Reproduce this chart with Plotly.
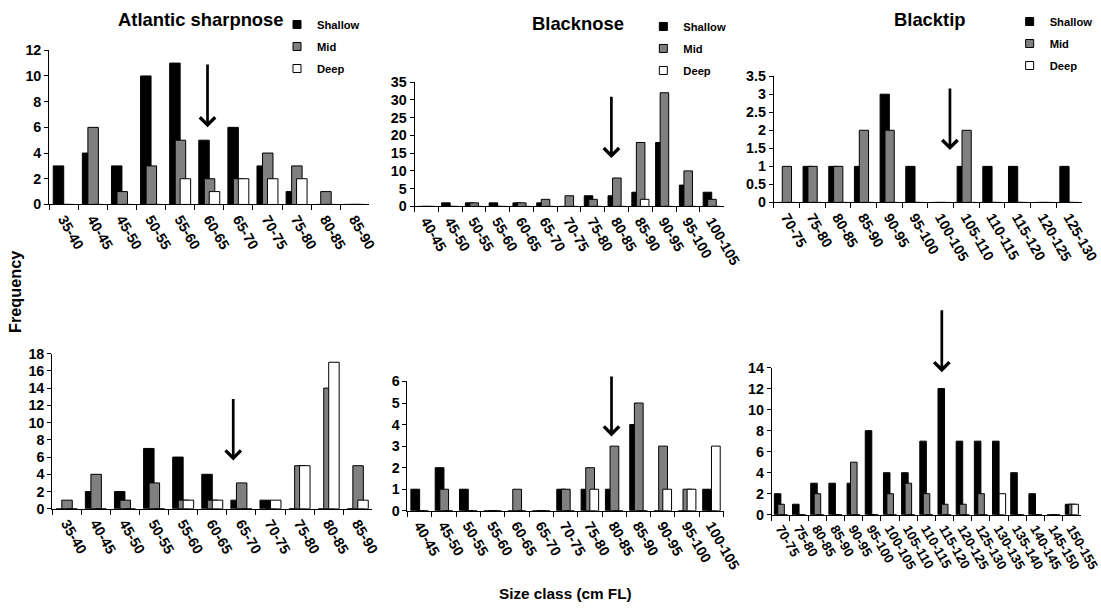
import plotly.graph_objects as go

# ---------------- data ----------------
sharp_cats = ["35-40", "40-45", "45-50", "50-55", "55-60", "60-65", "65-70",
              "70-75", "75-80", "80-85", "85-90"]
sharp_top_shallow = [3, 4, 3, 10, 11, 5, 6, 3, 1, 0, 0]
sharp_top_mid = [0, 6, 1, 3, 5, 2, 2, 4, 3, 1, 0]
sharp_top_deep = [0, 0, 0, 0, 2, 1, 2, 2, 2, 0, 0]
sharp_bot_shallow = [0, 2, 2, 7, 6, 4, 1, 1, 0, 0, 0]
sharp_bot_mid = [1, 4, 1, 3, 1, 1, 3, 0, 5, 14, 5]
sharp_bot_deep = [0, 0, 0, 0, 1, 1, 0, 1, 5, 17, 1]

nose_cats = ["40-45", "45-50", "50-55", "55-60", "60-65", "65-70", "70-75",
             "75-80", "80-85", "85-90", "90-95", "95-100", "100-105"]
nose_top_shallow = [0, 1, 1, 1, 1, 1, 0, 3, 3, 4, 18, 6, 4]
nose_top_mid = [0, 0, 1, 0, 1, 2, 3, 2, 8, 18, 32, 10, 2]
nose_top_deep = [0, 0, 0, 0, 0, 0, 0, 0, 0, 2, 0, 0, 0]
nose_bot_shallow = [1, 2, 1, 0, 0, 0, 1, 1, 1, 4, 0, 0, 1]
nose_bot_mid = [0, 1, 0, 0, 1, 0, 1, 2, 3, 5, 3, 1, 0]
nose_bot_deep = [0, 0, 0, 0, 0, 0, 0, 1, 0, 0, 1, 1, 3]

tip_top_cats = ["70-75", "75-80", "80-85", "85-90", "90-95", "95-100", "100-105",
                "105-110", "110-115", "115-120", "120-125", "125-130"]
tip_top_shallow = [0, 1, 1, 1, 3, 1, 0, 1, 1, 1, 0, 1]
tip_top_mid = [1, 1, 1, 2, 2, 0, 0, 2, 0, 0, 0, 0]
tip_top_deep = [0, 0, 0, 0, 0, 0, 0, 0, 0, 0, 0, 0]

tip_bot_cats = ["70-75", "75-80", "80-85", "85-90", "90-95", "95-100", "100-105",
                "105-110", "110-115", "115-120", "120-125", "125-130", "130-135",
                "135-140", "140-145", "145-150", "150-155"]
tip_bot_shallow = [2, 1, 3, 3, 3, 8, 4, 4, 7, 12, 7, 7, 7, 4, 2, 0, 1]
tip_bot_mid = [1, 0, 2, 0, 5, 0, 2, 3, 2, 1, 1, 2, 0, 0, 0, 0, 1]
tip_bot_deep = [0, 0, 0, 0, 0, 0, 0, 0, 0, 0, 0, 0, 2, 0, 0, 0, 1]

series_names = ["Shallow", "Mid", "Deep"]
panel_titles = ["Atlantic sharpnose", "Blacknose", "Blacktip"]

# mean-size arrows (x in category index units, tail and head in frequency units)
arrow_x = [4.94, 7.78, 6.36, 5.72, 7.89, 8.85]
arrow_tail = [11.0, 31.3, 3.2, 12.9, 6.3, 19.6]
arrow_head = [6.0, 13.6, 1.45, 5.6, 3.45, 13.56]

# ---------------- layout helpers ----------------
W, H = 1101, 609          # reference picture size (layout positions are given in these px)
K = 0.979                 # the captured page is shrunk slightly and letterboxed; compensate
Y_OFF = 6.5
FW, FH = round(W / K), H
FONT = "Liberation Sans"


def fx(p):
    return p / W


def fy(p):
    return 1 - ((p - Y_OFF) / K) / FH


def fs(v):
    return round(v / K, 1)


panels = [
    # cats, shallow, mid, deep, x-domain px, y-domain px (bottom, top), ymax, dtick, tickfont
    (sharp_cats, sharp_top_shallow, sharp_top_mid, sharp_top_deep, (49, 368), (204, 49), 12, 2, 14),
    (nose_cats, nose_top_shallow, nose_top_mid, nose_top_deep, (413, 721), (206, 81), 35, 5, 14),
    (tip_top_cats, tip_top_shallow, tip_top_mid, tip_top_deep, (771, 1078), (202, 75), 3.5, 0.5, 14),
    (sharp_cats, sharp_bot_shallow, sharp_bot_mid, sharp_bot_deep, (52, 371), (510, 354), 18, 2, 14),
    (nose_cats, nose_bot_shallow, nose_bot_mid, nose_bot_deep, (406, 721), (512, 382), 6, 1, 14),
    (tip_bot_cats, tip_bot_shallow, tip_bot_mid, tip_bot_deep, (769, 1077), (516, 368), 14, 2, 13),
]

colors = ["#000000", "#808080", "#ffffff"]
offsets = [-0.36, -0.17, 0.0]
bar_w = 0.36
legend_ids = ["legend", "legend2", "legend3"]

fig = go.Figure()
layout = dict(
    width=FW, height=FH,
    margin=dict(l=0, r=0, t=0, b=0),
    paper_bgcolor="white", plot_bgcolor="white",
    barmode="overlay",
    font=dict(family=FONT, color="black"),
    annotations=[],
)

for i, (cats, s, m, d, xd, yd, ymax, dt, tfs) in enumerate(panels):
    k = "" if i == 0 else str(i + 1)
    xa, ya = "x" + k, "y" + k
    for j, vals in enumerate([s, m, d]):
        fig.add_trace(go.Bar(
            x=cats, y=vals, name=series_names[j],
            xaxis=xa, yaxis=ya,
            width=bar_w, offset=offsets[j],
            marker=dict(color=colors[j], line=dict(color="black", width=1)),
            showlegend=False,
        ))
        if i < 3:
            # small square legend keys for the top-row legends
            fig.add_trace(go.Scatter(
                x=[None], y=[None], mode="markers", name=series_names[j],
                xaxis=xa, yaxis=ya,
                marker=dict(symbol="square", size=8, color=colors[j],
                            line=dict(color="black", width=1)),
                legend=legend_ids[i], legendgroup=f"g{i}{j}", showlegend=True,
            ))
    layout["xaxis" + k] = dict(
        domain=[fx(xd[0]), fx(xd[1])], anchor=ya,
        type="category", categoryorder="array", categoryarray=cats,
        range=[-0.5, len(cats) - 0.5],
        showline=True, linecolor="black", linewidth=1,
        ticks="outside", tickson="boundaries", ticklen=5, tickcolor="black",
        tickangle=60, showgrid=False, zeroline=False,
        tickfont=dict(family=FONT, size=fs(tfs), color="black", weight="bold"),
    )
    layout["yaxis" + k] = dict(
        domain=[fy(yd[0]), fy(yd[1])], anchor=xa,
        range=[0, ymax], dtick=dt,
        showline=True, linecolor="black", linewidth=1,
        ticks="outside", ticklen=4, tickcolor="black",
        showgrid=False, zeroline=False,
        tickfont=dict(family=FONT, size=fs(14), color="black", weight="bold"),
    )
    layout["annotations"].append(dict(
        x=arrow_x[i], y=arrow_head[i], ax=arrow_x[i], ay=arrow_tail[i],
        xref=xa, yref=ya, axref=xa, ayref=ya,
        text="", showarrow=True, arrowhead=4, arrowsize=1.1, arrowwidth=2.7,
        arrowcolor="black", standoff=0,
    ))

# legends for top row
legend_pos = [(276, 8.5), (641, 10.5), (1006, 5.5)]
for lid, (lx, ly) in zip(legend_ids, legend_pos):
    layout[lid] = dict(
        x=fx(lx), y=fy(ly), xanchor="left", yanchor="top",
        bgcolor="rgba(0,0,0,0)", borderwidth=0,
        font=dict(family=FONT, size=fs(11), color="black", weight="bold"),
        tracegroupgap=3, itemwidth=30,
    )

# panel titles
title_pos = [(200, 18), (576, 22), (927, 18)]
for t, (tx, ty) in zip(panel_titles, title_pos):
    layout["annotations"].append(dict(
        x=fx(tx), y=fy(ty), xref="paper", yref="paper", text=t, showarrow=False,
        xanchor="center", yanchor="middle",
        font=dict(family=FONT, size=fs(18), color="black", weight="bold"),
    ))

layout["annotations"].append(dict(
    x=fx(15), y=fy(292), xref="paper", yref="paper", text="Frequency", showarrow=False,
    textangle=-90, xanchor="center", yanchor="middle",
    font=dict(family=FONT, size=fs(16), color="black", weight="bold"),
))
layout["annotations"].append(dict(
    x=fx(563), y=fy(595), xref="paper", yref="paper", text="Size class (cm FL)",
    showarrow=False, xanchor="center", yanchor="middle",
    font=dict(family=FONT, size=fs(15), color="black", weight="bold"),
))

fig.update_layout(**layout)
fig.write_html(
    "out.html",
    config={"displayModeBar": False},
    post_script=(
        "document.body.style.margin='0px';"
        "document.body.style.overflow='hidden';"
        "document.documentElement.style.overflow='hidden';"
    ),
)
